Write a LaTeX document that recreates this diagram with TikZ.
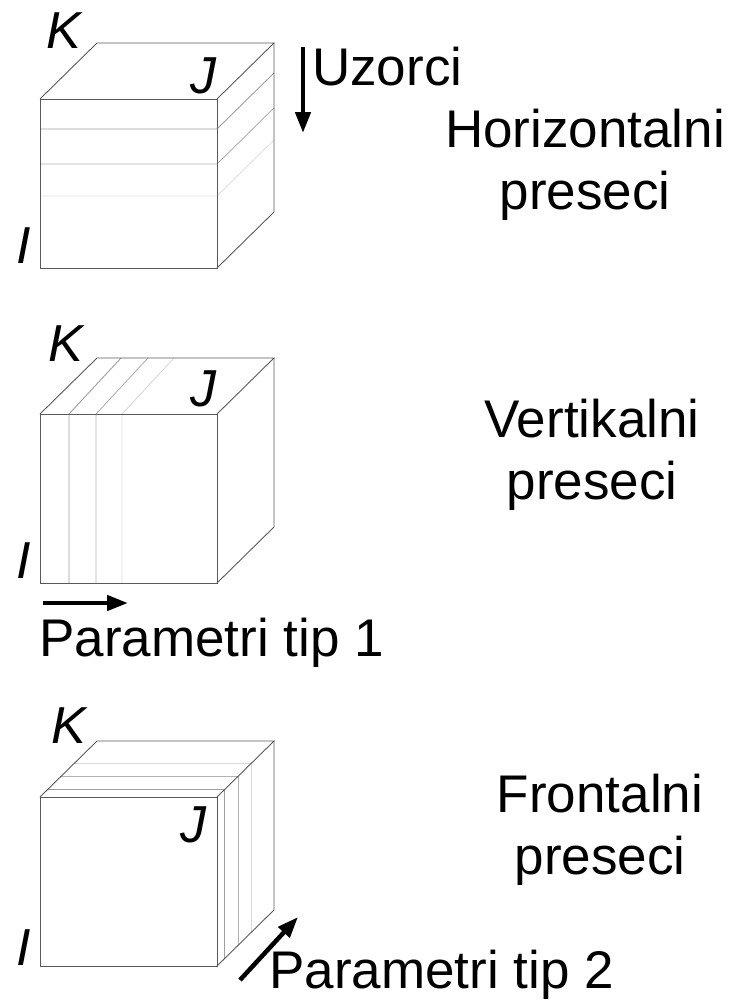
\documentclass[tikz,border=0pt]{standalone}
\usepackage{fontspec}
\setmainfont{Liberation Sans}
\usetikzlibrary{arrows.meta,positioning}

\begin{document}
\begin{tikzpicture}[x=1pt,y=-1pt]
    \useasboundingbox (0,0) rectangle (735,1001);

    % Stilovi
    \tikzset{
        ivica/.style={gray!70!black, line width=0.9pt},
        presek/.style={line width=0.9pt},
        oznaka/.style={font=\fontsize{52}{62}\selectfont\itshape, inner sep=0pt},
        tekst/.style={font=\fontsize{53}{62}\selectfont, inner sep=0pt, align=center},
        strelica/.style={-{Triangle[length=21pt,width=15pt]}, line width=4.5pt, black}
    }

    % Kocka 1 - horizontalni preseci
    \begin{scope}[shift={(40,99)}]
        \foreach \y/\c in {30/gray!75, 65/gray!60, 97/gray!25}
            \draw[presek, \c] (0,\y) -- (177,\y) -- (234,\y-56);
        \draw[ivica] (0,0) rectangle (177,169);
        \draw[ivica] (0,0) -- (57,-56) -- (234,-56) -- (177,0);
        \draw[ivica] (234,-56) -- (234,113) -- (177,169);
    \end{scope}
    \node[oznaka] (k1) at (64,31) {K};
    \node[oznaka] (j1) at (203,76) {J};
    \node[oznaka] (i1) at (24,246) {I};

    % Uzorci
    \coordinate (uzA) at (303,47);
    \coordinate (uzB) at (303,133);
    \draw[strelica] (uzA) -- (uzB);
    \node[tekst, anchor=base west] (uzorci) at (312,85) {Uzorci};
    \node[tekst] (horiz) at (585,165) {Horizontalni\\preseci};

    % Kocka 2 - vertikalni preseci
    \begin{scope}[shift={(40,414)}]
        \foreach \x/\c in {29/gray!75, 56/gray!60, 82/gray!30}
            \draw[presek, \c] (\x,169) -- (\x,0) -- (\x+52,-56);
        \draw[ivica] (0,0) rectangle (177,169);
        \draw[ivica] (0,0) -- (57,-56) -- (234,-56) -- (177,0);
        \draw[ivica] (234,-56) -- (234,113) -- (177,169);
    \end{scope}
    \node[oznaka] (k2) at (66,344) {K};
    \node[oznaka] (j2) at (203,389) {J};
    \node[oznaka] (i2) at (24,561) {I};

    \node[tekst] (vert) at (592,455) {Vertikalni\\preseci};

    % Parametri tip 1
    \coordinate (p1A) at (43,603);
    \coordinate (p1B) at (128,603);
    \draw[strelica] (p1A) -- (p1B);
    \node[tekst, anchor=base west] (tip1) at (39,656) {Parametri tip 1};

    % Kocka 3 - frontalni preseci
    \begin{scope}[shift={(40,797)}]
        \foreach \f/\c in {0.13/gray!75, 0.37/gray!60, 0.6/gray!30}
            \draw[presek, \c] (57*\f,-56*\f) -- (177+57*\f,-56*\f) -- (177+57*\f,169-56*\f);
        \draw[ivica] (0,0) rectangle (177,169);
        \draw[ivica] (0,0) -- (57,-56) -- (234,-56) -- (177,0);
        \draw[ivica] (234,-56) -- (234,113) -- (177,169);
    \end{scope}
    \node[oznaka] (k3) at (69,726) {K};
    \node[oznaka] (j3) at (193,825) {J};
    \node[oznaka] (i3) at (24,948) {I};

    \node[tekst] (front) at (600,830) {Frontalni\\preseci};

    % Parametri tip 2
    \coordinate (p2A) at (240,980);
    \coordinate (p2B) at (298,917);
    \draw[strelica] (p2A) -- (p2B);
    \node[tekst, anchor=base west] (tip2) at (269,988) {Parametri tip 2};
\end{tikzpicture}
\end{document}
